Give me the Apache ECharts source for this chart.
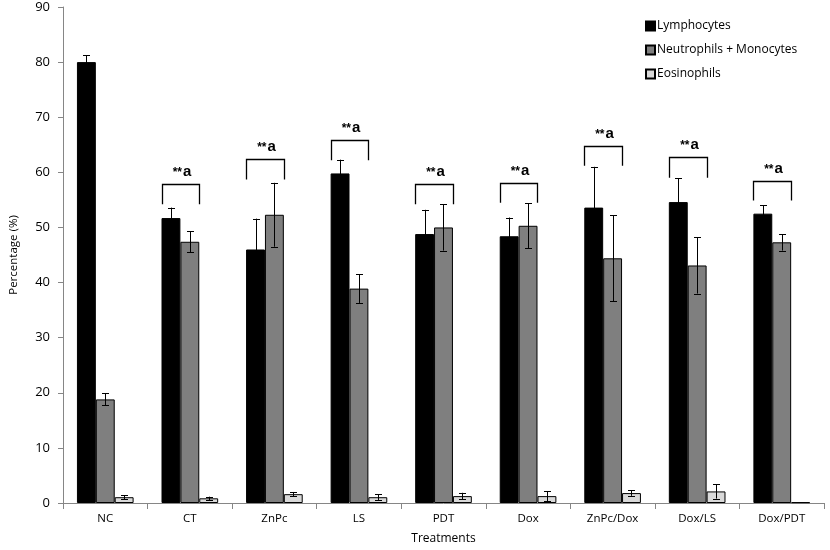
<!DOCTYPE html>
<html>
<head>
<meta charset="utf-8">
<script src="https://cdn.jsdelivr.net/npm/echarts@6/dist/echarts.min.js"></script>
<style>html,body{margin:0;padding:0;background:#fff}#c{width:830px;height:550px}</style>
</head>
<body>
<div id="c"></div>
<script>
var categories = ['NC','CT','ZnPc','LS','PDT','Dox','ZnPc/Dox','Dox/LS','Dox/PDT'];
var seriesNames = ['Lymphocytes','Neutrophils + Monocytes','Eosinophils'];
var lymphocytes = [80.0, 51.7, 46.0, 59.8, 48.8, 48.4, 53.6, 54.6, 52.5];
var lymphErr    = [1.2, 1.9, 5.6, 2.5, 4.4, 3.4, 7.4, 4.3, 1.5];
var neutroMono  = [18.8, 47.4, 52.3, 38.9, 50.0, 50.3, 44.4, 43.1, 47.3];
var neutroErr   = [1.1, 1.9, 5.8, 2.6, 4.2, 4.1, 7.8, 5.1, 1.5];
var eosinophils = [1.05, 0.85, 1.6, 1.05, 1.25, 1.25, 1.8, 2.1, 0.15];
var eosErr      = [0.4, 0.3, 0.4, 0.5, 0.6, 0.9, 0.5, 1.3, 0];
// significance brackets: [categoryIndex, bracketTop, legBottom]
var bracketCats = [1, 2, 3, 4, 5, 6, 7, 8];
var bracketTop  = [57.8, 62.5, 65.9, 57.8, 58.1, 64.8, 62.7, 58.5];
var bracketLeg  = [54.2, 58.7, 62.2, 54.2, 54.5, 61.2, 59.0, 54.9];
var bracketLabel = ['**', 'a'];
var yTicks = [0, 10, 20, 30, 40, 50, 60, 70, 80, 90];

var values = [lymphocytes, neutroMono, eosinophils];
var errors = [lymphErr, neutroErr, eosErr];
var colors = ['#000000', '#7f7f7f', '#d9d9d9'];
var GAP = 0.33;

var chart = echarts.init(document.getElementById('c'), null, {renderer: 'canvas'});

var series = [];
values.forEach(function (vals, si) {
  series.push({
    name: seriesNames[si],
    type: 'bar',
    data: vals,
    barGap: '0%',
    barCategoryGap: (GAP * 100) + '%',
    itemStyle: {color: colors[si], borderColor: '#000', borderWidth: 1},
    emphasis: {disabled: true},
    z: 2
  });
});

values.forEach(function (vals, si) {
  var data = vals.map(function (v, i) { return [i, v, errors[si][i]]; });
  series.push({
    type: 'custom',
    data: data,
    z: 5,
    silent: true,
    renderItem: function (params, api) {
      var ci = api.value(0), v = api.value(1), e = api.value(2);
      var cw = api.size([1, 0])[0];
      var bw = cw * (1 - GAP) / 3;
      var c = api.coord([ci, v]);
      var x = Math.round(c[0] + (si - 1) * bw) + 0.5;
      if (!(e > 0)) return null;
      var top = api.coord([ci, v + e])[1];
      var bot = api.coord([ci, v - e])[1];
      var cap = 3.5;
      var st = {stroke: '#000', lineWidth: 1};
      return {
        type: 'group',
        children: [
          {type: 'line', shape: {x1: x, y1: top, x2: x, y2: bot}, style: st},
          {type: 'line', shape: {x1: x - cap, y1: Math.round(top) + 0.5, x2: x + cap, y2: Math.round(top) + 0.5}, style: st},
          {type: 'line', shape: {x1: x - cap, y1: Math.round(bot) + 0.5, x2: x + cap, y2: Math.round(bot) + 0.5}, style: st}
        ]
      };
    }
  });
});

series.push({
  type: 'custom',
  data: bracketCats.map(function (c, i) { return [c, bracketTop[i], bracketLeg[i]]; }),
  z: 6,
  silent: true,
  renderItem: function (params, api) {
    var ci = api.value(0), t = api.value(1), l = api.value(2);
    var cw = api.size([1, 0])[0];
    var bw = cw * (1 - GAP) / 3;
    var c = api.coord([ci, t]);
    var x1 = Math.round(c[0] - 1.5 * bw) + 0.5;
    var x2 = Math.round(c[0] + 0.5 * bw) + 0.5;
    var yt = Math.round(c[1]) + 0.5;
    var yl = api.coord([ci, l])[1];
    return {
      type: 'group',
      children: [
        {type: 'polyline', shape: {points: [[x1, yl], [x1, yt], [x2, yt], [x2, yl]]}, style: {stroke: '#000', lineWidth: 1.3, fill: null}},
        {type: 'text', x: (x1 + x2) / 2 + 1, y: yt - 13, style: {
          text: '{s|' + bracketLabel[0] + '}{a|' + bracketLabel[1] + '}',
          rich: {
            s: {fontFamily: 'Liberation Sans', fontSize: 12, fontWeight: 'bold', fill: '#000', verticalAlign: 'middle', padding: [2, 1, 0, 0]},
            a: {fontFamily: 'Liberation Sans', fontSize: 15, fontWeight: 'bold', fill: '#000', verticalAlign: 'middle'}
          },
          align: 'center', verticalAlign: 'middle'
        }}
      ]
    };
  }
});

var option = {
  animation: false,
  backgroundColor: '#fff',
  textStyle: {fontFamily: 'Open Sans'},
  grid: {left: 61, right: 6, top: 7, bottom: 45, containLabel: false},
  legend: {
    data: seriesNames,
    orient: 'vertical',
    left: 640,
    top: 15,
    itemWidth: 9,
    itemHeight: 9,
    itemGap: 12,
    icon: 'rect',
    selectedMode: false,
    textStyle: {fontFamily: 'Open Sans', fontSize: 12, color: '#000', padding: [0, 0, 0, -3]}
  },
  xAxis: {
    type: 'category',
    data: categories,
    name: 'Treatments',
    nameLocation: 'middle',
    nameGap: 30,
    nameTextStyle: {fontFamily: 'Open Sans', fontSize: 12, color: '#000'},
    axisLine: {lineStyle: {color: '#868686', width: 1}},
    axisTick: {show: true, length: 6, alignWithLabel: false, lineStyle: {color: '#868686'}},
    axisLabel: {fontFamily: 'Open Sans', fontSize: 11.5, color: '#000', margin: 10}
  },
  yAxis: {
    type: 'value',
    min: 0,
    max: 90,
    interval: 10,
    name: 'Percentage (%)',
    nameLocation: 'middle',
    nameGap: 43,
    nameTextStyle: {fontFamily: 'Open Sans', fontSize: 11.5, color: '#000'},
    axisLine: {show: true, lineStyle: {color: '#868686', width: 1}},
    axisTick: {show: true, length: 5, lineStyle: {color: '#868686'}},
    axisLabel: {fontFamily: 'Open Sans', fontSize: 13, color: '#000', margin: 13,
      formatter: function (v) { return yTicks.indexOf(v) >= 0 ? String(v) : ''; }},
    splitLine: {show: false}
  },
  series: series
};
chart.setOption(option);
</script>
</body>
</html>
